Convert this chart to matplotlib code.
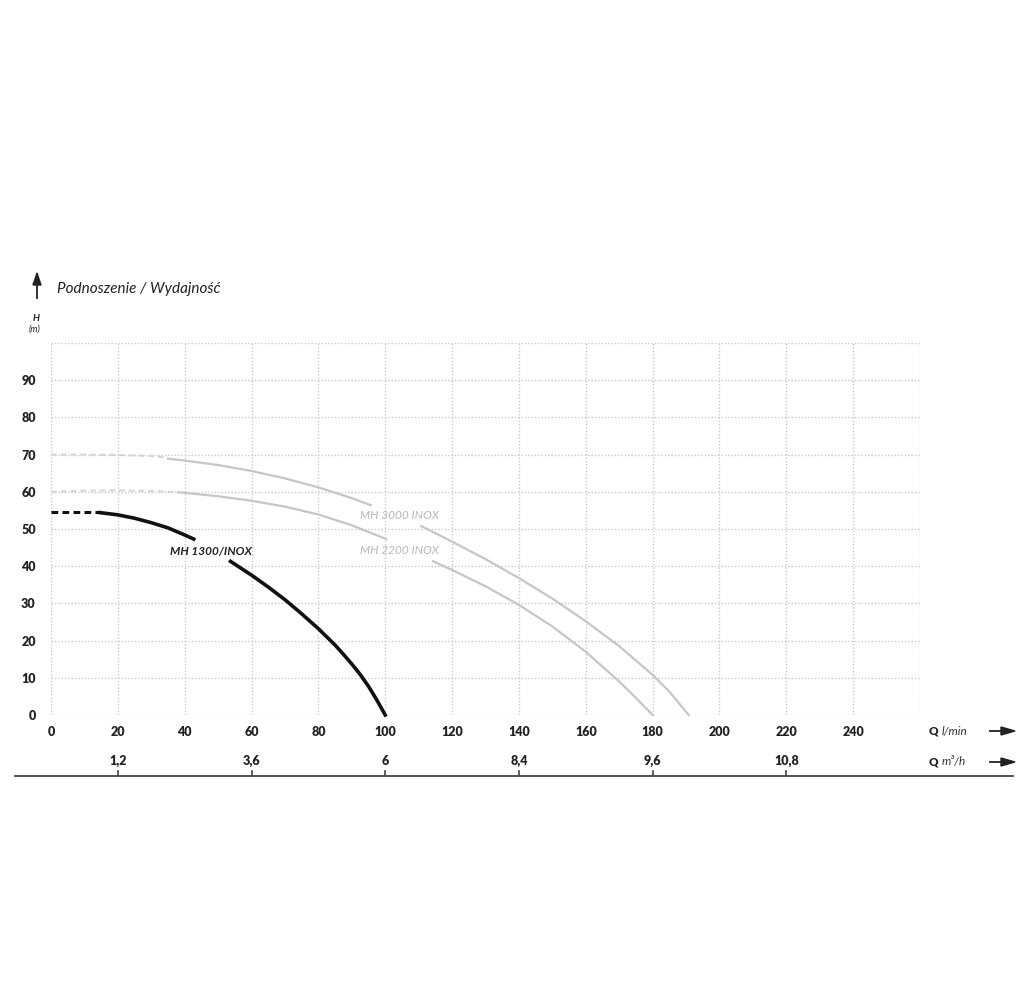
import matplotlib
matplotlib.use("Agg")
import matplotlib.pyplot as plt
from matplotlib.lines import Line2D

# ---------------- data ----------------
q_ticks = [0, 20, 40, 60, 80, 100, 120, 140, 160, 180, 200, 220, 240, 260]
q_tick_labels = ["0", "20", "40", "60", "80", "100", "120", "140", "160",
                 "180", "200", "220", "240", ""]
h_ticks = [0, 10, 20, 30, 40, 50, 60, 70, 80, 90, 100]
h_tick_labels = ["0", "10", "20", "30", "40", "50", "60", "70", "80", "90", ""]
m3h_pos = [20, 60, 100, 140, 180, 220]
m3h_labels = ["1,2", "3,6", "6", "8,4", "9,6", "10,8"]

# MH 1300/INOX
q1300_dash = [0, 14.7]
h1300_dash = [54.5, 54.5]
q1300_a = [14.7, 20, 25, 30, 35, 40, 42.7]
h1300_a = [54.4, 53.8, 52.9, 51.7, 50.3, 48.4, 47.3]
q1300_b = [53.7, 60, 65, 70, 75, 80, 85, 87.5, 90, 92.5, 95, 97.5, 100]
h1300_b = [41.3, 37.6, 34.4, 31.0, 27.2, 23.2, 18.8, 16.3, 13.7, 10.9, 7.7, 4.0, 0.0]

# MH 3000 INOX
q3000_dash = [0, 10, 20, 30, 35]
h3000_dash = [70.0, 70.0, 69.9, 69.6, 69.2]
q3000_a = [35, 40, 50, 60, 70, 80, 90, 95.7]
h3000_a = [68.9, 68.4, 67.2, 65.6, 63.6, 61.2, 58.3, 56.4]
q3000_b = [110.8, 120, 130, 140, 150, 160, 170, 180, 185, 190.8]
h3000_b = [50.8, 46.6, 41.9, 36.8, 31.3, 25.2, 18.5, 10.8, 6.3, 0.0]

# MH 2200 INOX
q2200_dash = [0, 10, 20, 30, 38]
h2200_dash = [60.0, 60.3, 60.4, 60.2, 59.9]
q2200_a = [38, 50, 60, 70, 80, 90, 100.3]
h2200_a = [59.9, 58.8, 57.6, 56.0, 53.9, 51.0, 47.3]
q2200_b = [114.3, 120, 130, 140, 150, 160, 170, 175, 180]
h2200_b = [41.3, 39.0, 34.6, 29.6, 23.8, 17.0, 9.0, 4.6, 0.0]

# ---------------- figure ----------------
W, H = 1031, 991
fig = plt.figure(figsize=(W / 100, H / 100), dpi=100)
fig.patch.set_facecolor("white")

def fx(px):
    return px / W

def fy(py):
    return 1 - py / H

ax = fig.add_axes([fx(51), fy(715), fx(920) - fx(51), fy(343) - fy(715)])
ax.set_xlim(0, 260)
ax.set_ylim(0, 100)
for s in ax.spines.values():
    s.set_visible(False)

grid_kw = dict(color="#c9c9c9", linewidth=1.0, linestyle=(0, (1, 1.4)))
ax.set_xticks(q_ticks)
ax.set_xticklabels(q_tick_labels)
ax.set_yticks(h_ticks)
ax.set_yticklabels(h_tick_labels)
ax.grid(True, **grid_kw)
ax.set_axisbelow(True)
ax.tick_params(axis="both", length=0, labelsize=9, colors="#222222")
ax.tick_params(axis="x", pad=8)
ax.tick_params(axis="y", pad=11)
for lab in ax.get_xticklabels() + ax.get_yticklabels():
    lab.set_fontfamily("Lato")
    lab.set_fontweight("heavy")

black = "#111111"
gray = "#c6c6c6"
# black curve
ax.plot(q1300_dash, h1300_dash, color=black, lw=2.2, linestyle=(0, (2.2, 1.4)),
        solid_capstyle="butt", clip_on=False)
ax.plot(q1300_a, h1300_a, color=black, lw=2.6, clip_on=False, solid_joinstyle="round")
ax.plot(q1300_b, h1300_b, color=black, lw=2.6, clip_on=False, solid_joinstyle="round")
# gray curves
for qd, hd, qa, ha, qb, hb in [
    (q3000_dash, h3000_dash, q3000_a, h3000_a, q3000_b, h3000_b),
    (q2200_dash, h2200_dash, q2200_a, h2200_a, q2200_b, h2200_b),
]:
    ax.plot(qd, hd, color="#d4d4d4", lw=1.4, linestyle=(0, (3, 2)), clip_on=False)
    ax.plot(qa, ha, color=gray, lw=1.6, clip_on=False, solid_joinstyle="round")
    ax.plot(qb, hb, color=gray, lw=1.6, clip_on=False, solid_joinstyle="round")

# curve labels
ax.text(35.5, 43.9, "MH 1300/INOX", fontsize=8.5, style="italic", fontweight="bold",
        family="Lato", color="#222222", va="center", ha="left")
ax.text(92.6, 53.6, "MH 3000 INOX", fontsize=8.5, style="italic",
        family="Lato", color="#b8b8b8", va="center", ha="left")
ax.text(92.6, 44.2, "MH 2200 INOX", fontsize=8.5, style="italic",
        family="Lato", color="#b8b8b8", va="center", ha="left")

# second scale (m3/h)
xt = ax.get_xaxis_transform()
y_line = (715 - 776) / (715 - 343)
y_tick_top = (715 - 771) / (715 - 343)
y_lab = (715 - 761) / (715 - 343)
for p, lab in zip(m3h_pos, m3h_labels):
    ax.plot([p, p], [y_line, y_tick_top], transform=xt, color="#444444", lw=1.2,
            clip_on=False)
    ax.text(p, y_lab, lab, transform=xt, ha="center", va="center", fontsize=9,
            fontweight="heavy", family="Lato", color="#222222", clip_on=False)
fig.add_artist(Line2D([fx(15), fx(1013)], [fy(776), fy(776)], color="#444444", lw=1.3))

# axis unit labels and arrows
fig.text(fx(929), fy(731), "Q", fontsize=8.5, fontweight="heavy", family="Lato",
         color="#222222", va="center", ha="left")
fig.text(fx(942), fy(731), "l/min", fontsize=8.5, style="italic", family="Lato",
         color="#333333", va="center", ha="left")
fig.text(fx(929), fy(762), "Q", fontsize=8.5, fontweight="heavy", family="Lato",
         color="#222222", va="center", ha="left")
fig.text(fx(942), fy(762), "m³/h", fontsize=8.5, style="italic", family="Lato",
         color="#333333", va="center", ha="left")
for yy in (731, 762):
    fig.add_artist(Line2D([fx(990), fx(1003)], [fy(yy), fy(yy)], color="#222222", lw=1.3))
    fig.patches.append(plt.Polygon([[fx(1001), fy(yy - 4)], [fx(1001), fy(yy + 4)],
                                    [fx(1015), fy(yy)]], closed=True,
                                   transform=fig.transFigure, color="#222222"))

# title with up arrow
fig.add_artist(Line2D([fx(37), fx(37)], [fy(298), fy(283)], color="#222222", lw=1.3))
fig.patches.append(plt.Polygon([[fx(33), fy(285)], [fx(41), fy(285)], [fx(37), fy(273)]],
                               closed=True, transform=fig.transFigure, color="#222222"))
fig.text(fx(57), fy(289), "Podnoszenie / Wydajność", fontsize=11, style="italic",
         family="Lato", color="#222222", va="center", ha="left")
fig.text(fx(36), fy(318), "H", fontsize=7, style="italic", fontweight="bold",
         family="Lato", color="#222222", va="center", ha="center")
fig.text(fx(35), fy(329), "(m)", fontsize=6.5, style="italic",
         family="Lato", color="#222222", va="center", ha="center")

fig.savefig("out.png", dpi=100, facecolor="white")
